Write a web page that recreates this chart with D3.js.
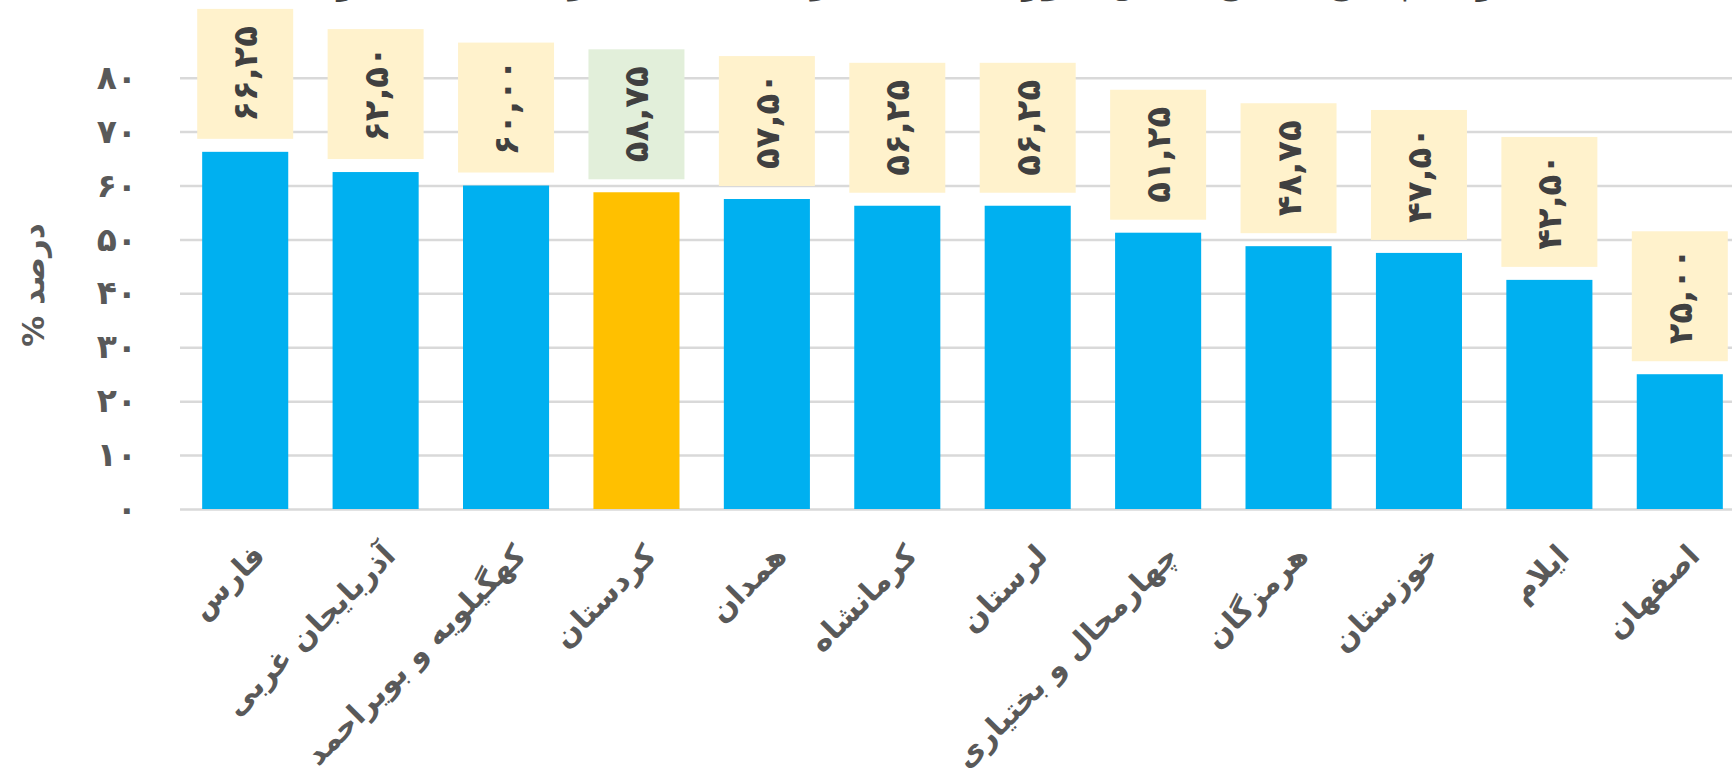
<!DOCTYPE html>
<html>
<head>
<meta charset="utf-8">
<script src="https://cdn.jsdelivr.net/npm/d3@7"></script>
<style>
    html, body { margin: 0; padding: 0; background: #ffffff; }
    svg { display: block; }
</style>
</head>
<body>
<div id="chart"></div>
<script>
// استان ها و درصد ها
var provinces = ['فارس', 'آذربایجان غربی', 'کهگیلویه و بویراحمد', 'کردستان', 'همدان', 'کرمانشاه',
    'لرستان', 'چهارمحال و بختیاری', 'هرمزگان', 'خوزستان', 'ایلام', 'اصفهان'];
var percents = [66.25, 62.5, 60, 58.75, 57.5, 56.25, 56.25, 51.25, 48.75, 47.5, 42.5, 25];
var yTicks = [0, 10, 20, 30, 40, 50, 60, 70, 80];
var highlight = 'کردستان';
var yTitle = 'درصد %';
var chartTitle = 'مقایسه درصد پاسخ صحیح دانش آموزان استان کردستان با سایر استان ها (درصد)';

var W = 1732, H = 768;

var toFa = function(s) {
    return String(s).replace(/[0-9]/g, function(c) { return '۰۱۲۳۴۵۶۷۸۹'[+c]; });
};
var fmtVal = function(v) {
    return toFa(d3.format('.2f')(v).replace('.', ','));
};

var svg = d3.select('#chart').append('svg')
    .attr('width', W)
    .attr('height', H)
    .style('font-family', '"DejaVu Sans", "Noto Sans", sans-serif')
    .style('font-weight', 'bold');

var x = d3.scaleBand()
    .domain(provinces)
    .range([180, 1745])
    .paddingInner(0.34)
    .paddingOuter(0.17);

var y = d3.scaleLinear()
    .domain([0, 80])
    .range([509, 77.7]);

// title: only its lowest part shows at the top edge
var title = svg.append('text')
    .attr('x', 962)
    .attr('y', -7)
    .attr('text-anchor', 'middle')
    .attr('font-size', 40)
    .attr('fill', '#404040')
    .text(chartTitle);
var tl = title.node().getComputedTextLength();
if (tl > 1390) title.attr('font-size', 40 * 1390 / tl);

// grid lines
var grid = svg.append('g')
    .attr('transform', 'translate(180,0)')
    .call(d3.axisRight(y).tickValues(yTicks).tickSize(W - 180).tickFormat(''));
grid.select('.domain').remove();
grid.selectAll('line').attr('stroke', '#d9d9d9').attr('stroke-width', 2.5);

// y labels
var yAxis = svg.append('g')
    .attr('transform', 'translate(137,0)')
    .call(d3.axisLeft(y).tickValues(yTicks).tickSize(0).tickPadding(0).tickFormat(toFa));
yAxis.select('.domain').remove();
yAxis.selectAll('text')
    .attr('font-size', 33)
    .attr('font-family', '"DejaVu Sans", sans-serif')
    .attr('font-weight', 'bold')
    .attr('fill', '#595959');

svg.append('text')
    .attr('transform', 'translate(33,285) rotate(-90)')
    .attr('text-anchor', 'middle')
    .attr('dominant-baseline', 'central')
    .attr('direction', 'rtl')
    .attr('font-size', 31)
    .attr('fill', '#595959')
    .text(yTitle);

// bars
svg.selectAll('rect.bar')
    .data(provinces)
    .enter().append('rect')
    .attr('class', 'bar')
    .attr('x', function(d) { return x(d); })
    .attr('width', x.bandwidth())
    .attr('y', function(d, i) { return y(percents[i]); })
    .attr('height', function(d, i) { return y(0) - y(percents[i]); })
    .attr('fill', function(d) { return d == highlight ? '#ffc000' : '#00b0f0'; });

// value labels (rotated, in a box)
var lab = svg.selectAll('g.lab')
    .data(provinces)
    .enter().append('g')
    .attr('class', 'lab');

lab.each(function(d, i) {
    var g = d3.select(this);
    var cx = x(d) + x.bandwidth() / 2;
    var t = g.append('text')
        .attr('text-anchor', 'middle')
        .attr('dominant-baseline', 'central')
        .attr('font-size', 34)
        .attr('fill', '#404040')
        .text(fmtVal(percents[i]));
    var len = t.node().getComputedTextLength();
    var boxH = len + 34, boxW = 96;
    var bottom = y(percents[i]) - 13;
    var cy = bottom - boxH / 2;
    g.insert('rect', 'text')
        .attr('x', cx - boxW / 2)
        .attr('y', bottom - boxH)
        .attr('width', boxW)
        .attr('height', boxH)
        .attr('fill', d == highlight ? '#e2efda' : '#fff2cc');
    t.attr('transform', 'translate(' + cx + ',' + cy + ') rotate(-90)');
});

// category labels
svg.selectAll('text.cat')
    .data(provinces)
    .enter().append('text')
    .attr('class', 'cat')
    .attr('transform', function(d) {
        return 'translate(' + (x(d) + x.bandwidth() / 2 + 14) + ',550) rotate(-45)';
    })
    .attr('text-anchor', 'end')
    .attr('dy', '0.35em')
    .attr('font-size', 30)
    .attr('fill', '#595959')
    .text(function(d) { return d; });
</script>
</body>
</html>
